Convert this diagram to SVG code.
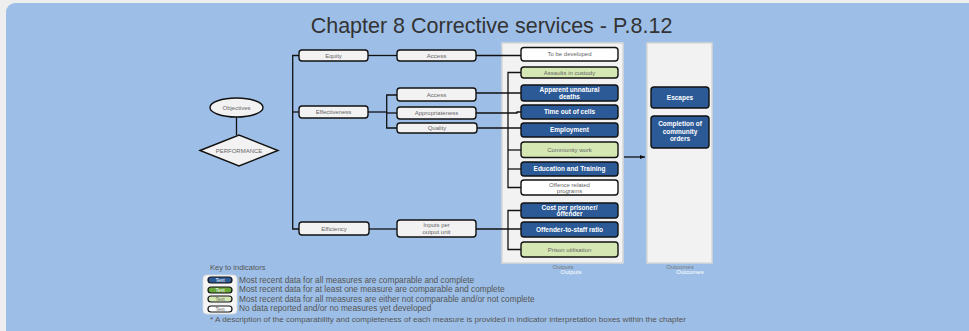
<svg xmlns="http://www.w3.org/2000/svg" width="969" height="331" viewBox="0 0 969 331">
<defs>
<style>
text{font-family:"Liberation Sans",Arial,sans-serif}
.title{font-size:21.5px;fill:#333}
.nb{fill:#f2f2f2;stroke:#111;stroke-width:1.4}
.wt{fill:#fff;stroke:#111;stroke-width:1.4}
.gr{fill:#d5e8b4;stroke:#111;stroke-width:1.4}
.bl{fill:#2b5a97;stroke:#111;stroke-width:1.4}
.t{font-size:6px;fill:#666;text-anchor:middle}
.tw{font-size:6.5px;fill:#fff;font-weight:bold;text-anchor:middle}
.c{fill:none;stroke:#111;stroke-width:1.3}
.panel{fill:#f2f2f2;stroke:#d8d8d8;stroke-width:1.5}
.k{font-size:8.3px;fill:#555}
.lbl{font-size:6px;fill:#777;text-anchor:middle}
.lblw{font-size:6px;fill:#fff;text-anchor:middle}
</style>
<marker id="ar" markerWidth="6" markerHeight="6" refX="5" refY="3" orient="auto" markerUnits="userSpaceOnUse">
<path d="M0,1 L5,3 L0,5 Z" fill="#111"/>
</marker>
</defs>
<rect x="0" y="0" width="969" height="331" fill="#eeeeee"/>
<rect x="6" y="3" width="980" height="340" rx="9" fill="#9dbfe7"/>
<text class="title" x="491.5" y="32.5" text-anchor="middle">Chapter 8 Corrective services - P.8.12</text>

<g id="panels">
<rect class="panel" x="502" y="43" width="121" height="220"/>
<rect class="panel" x="647" y="43" width="65" height="220"/>
<text class="lbl" x="563" y="269">Outputs</text>
<text class="lblw" x="571" y="274">Outputs</text>
<text class="lbl" x="680" y="269">Outcomes</text>
<text class="lblw" x="690" y="274">Outcomes</text>
</g>

<g id="connectors">
<path class="c" d="M236.5,117 V135"/>
<path class="c" d="M299,55.5 H292.7 V229 H299"/>
<path class="c" d="M292.7,112 H299"/>
<path class="c" d="M368,55.5 H397"/>
<path class="c" d="M476,55.5 H521"/>
<path class="c" d="M368,112 H386.7"/>
<path class="c" d="M397,95 H386.7 V128 H397"/>
<path class="c" d="M386.7,113 H397"/>
<path class="c" d="M476,93 H521"/>
<path class="c" d="M476,113 H517 V112 H521"/>
<path class="c" d="M476,128 H521"/>
<path class="c" d="M521,72.5 H508 V187.5 H521"/>
<path class="c" d="M508,150 H521"/>
<path class="c" d="M508,169 H521"/>
<path class="c" d="M369,229 H397"/>
<path class="c" d="M476,229 H521"/>
<path class="c" d="M521,210.5 H508 V249.5 H521"/>
<path class="c" d="M624,157 H645" marker-end="url(#ar)"/>
</g>

<g id="objectives"><ellipse class="nb" cx="236.5" cy="107.5" rx="26.5" ry="9.5"/><text class="t" x="236.5" y="109.5">Objectives</text></g>
<g id="performance"><polygon class="nb" points="200,150.5 239,135 278,150.5 239,166"/><text class="t" x="239" y="152.5">PERFORMANCE</text></g>

<g id="equity"><rect class="nb" x="299" y="50" width="69" height="11" rx="3"/><text class="t" x="333.5" y="57.5">Equity</text></g>
<g id="effectiveness"><rect class="nb" x="299" y="106" width="69" height="12" rx="3"/><text class="t" x="333.5" y="114">Effectiveness</text></g>
<g id="efficiency"><rect class="nb" x="299" y="222" width="70" height="13" rx="3"/><text class="t" x="334" y="230.5">Efficiency</text></g>

<g id="access-equity"><rect class="nb" x="397" y="50" width="79" height="11" rx="3"/><text class="t" x="436.5" y="57.5">Access</text></g>
<g id="access-eff"><rect class="nb" x="397" y="88" width="79" height="13" rx="3"/><text class="t" x="436.5" y="96.5">Access</text></g>
<g id="appropriateness"><rect class="nb" x="397" y="107" width="79" height="12" rx="3"/><text class="t" x="436.5" y="115">Appropriateness</text></g>
<g id="quality"><rect class="nb" x="397" y="123" width="80" height="10" rx="3"/><text class="t" x="437" y="130">Quality</text></g>
<g id="inputs"><rect class="nb" x="397" y="220" width="79" height="17" rx="3"/><text class="t" x="436.5" y="227">Inputs per</text><text class="t" x="436.5" y="234">output unit</text></g>

<g id="o-tbd"><rect class="wt" x="521" y="47.5" width="97" height="13.5" rx="3"/><text class="t" x="569.5" y="56">To be developed</text></g>
<g id="o-assaults"><rect class="gr" x="521" y="67" width="97" height="11" rx="3"/><text class="t" x="569.5" y="74.5">Assaults in custody</text></g>
<g id="o-deaths"><rect class="bl" x="521" y="85" width="97" height="16" rx="3"/><text class="tw" x="569.5" y="91.5">Apparent unnatural</text><text class="tw" x="569.5" y="98.5">deaths</text></g>
<g id="o-timeout"><rect class="bl" x="521" y="105" width="97" height="14" rx="3"/><text class="tw" x="569.5" y="114">Time out of cells</text></g>
<g id="o-employment"><rect class="bl" x="521" y="123" width="97" height="14" rx="3"/><text class="tw" x="569.5" y="132">Employment</text></g>
<g id="o-community"><rect class="gr" x="521" y="142" width="97" height="15.5" rx="3"/><text class="t" x="569.5" y="152">Community work</text></g>
<g id="o-education"><rect class="bl" x="521" y="162" width="97" height="14" rx="3"/><text class="tw" x="569.5" y="171">Education and Training</text></g>
<g id="o-programs"><rect class="wt" x="521" y="180" width="97" height="15" rx="3"/><text class="t" x="569.5" y="186.5">Offence related</text><text class="t" x="569.5" y="193">programs</text></g>
<g id="o-cost"><rect class="bl" x="521" y="203" width="97" height="15" rx="3"/><text class="tw" x="569.5" y="209.5">Cost per prisoner/</text><text class="tw" x="569.5" y="216">offender</text></g>
<g id="o-ratio"><rect class="bl" x="521" y="222" width="97" height="15" rx="3"/><text class="tw" x="569.5" y="231.5">Offender-to-staff ratio</text></g>
<g id="o-utilisation"><rect class="gr" x="521" y="242" width="97" height="15" rx="3"/><text class="t" x="569.5" y="251.5">Prison utilisation</text></g>

<g id="oc-escapes"><rect class="bl" x="651" y="87" width="58" height="21" rx="3"/><text class="tw" x="680" y="99.5">Escapes</text></g>
<g id="oc-completion"><rect class="bl" x="651" y="116" width="58" height="32" rx="3"/><text class="tw" x="680" y="126">Completion of</text><text class="tw" x="680" y="133.5">community</text><text class="tw" x="680" y="141">orders</text></g>

<g id="key">
<text class="k" x="210" y="270" style="font-size:7.5px">Key to indicators</text>
<rect x="203" y="275" width="34" height="39" rx="4" fill="#f4f4f4" stroke="#ddd" stroke-width="0.8"/>
<rect x="208" y="277" width="24" height="6" rx="3" fill="#2b5a97" stroke="#111" stroke-width="1.2"/>
<text x="220" y="282" style="font-size:5px;fill:#fff;text-anchor:middle">Text</text>
<rect x="208" y="287" width="24" height="6" rx="3" fill="#6aa83a" stroke="#111" stroke-width="1.2"/>
<text x="220" y="292" style="font-size:5px;fill:#fff;text-anchor:middle">Text</text>
<rect x="208" y="296" width="24" height="6" rx="3" fill="#d5e8b4" stroke="#111" stroke-width="1.2"/>
<text x="220" y="301" style="font-size:5px;fill:#666;text-anchor:middle">Text</text>
<rect x="208" y="306" width="24" height="6" rx="3" fill="#fff" stroke="#111" stroke-width="1.2"/>
<text x="220" y="311" style="font-size:5px;fill:#666;text-anchor:middle">Text</text>
<text class="k" x="239" y="282.5">Most recent data for all measures are comparable and complete</text>
<text class="k" x="239" y="292">Most recent data for at least one measure are comparable and complete</text>
<text class="k" x="239" y="301.5">Most recent data for all measures are either not comparable and/or not complete</text>
<text class="k" x="239" y="311">No data reported and/or no measures yet developed</text>
<text class="k" x="210" y="322" style="font-size:8.1px">* A description of the comparability and completeness of each measure is provided in indicator interpretation boxes within the chapter</text>
</g>
</svg>
